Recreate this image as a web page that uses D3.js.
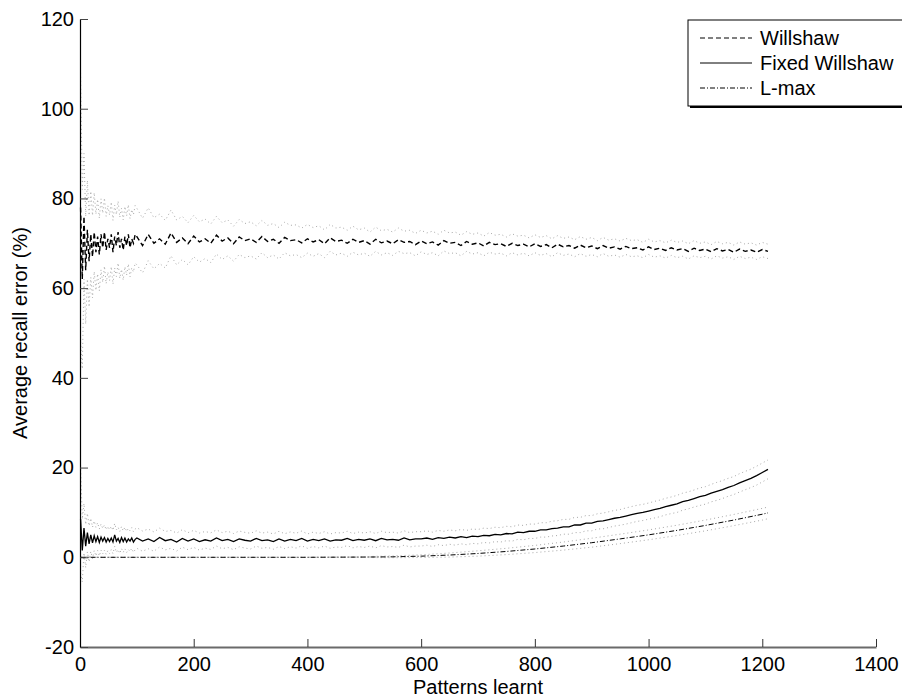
<!DOCTYPE html>
<html>
<head>
<meta charset="utf-8">
<script src="https://cdn.jsdelivr.net/npm/d3@7"></script>
<style>
  body { margin: 0; background: #fff; }
  text { font-family: "Liberation Sans", Arial, sans-serif; fill: #000; }
</style>
</head>
<body>
<div class="chart"></div>
<script>
//Pattern counts where the curves were sampled (dense at the start, then every 10).
var earlyPatterns = d3.range(1, 100, 3);
var latePatterns = d3.range(100, 1211, 10);
var patterns = earlyPatterns.concat(latePatterns);

//Willshaw: mean recall error and its spread.
var willshawMean = [78, 62, 76, 64, 73, 66, 72, 67, 72.5, 68, 71.5, 67.5, 72, 69, 72.5, 68.5, 71, 69, 72, 68,
  71.5, 69.5, 72.5, 69, 71, 68.5, 71.5, 69.5, 72, 69, 71, 70, 72,
  71.5, 69.5, 72.0, 70.0, 71.0, 69.8, 72.3, 70.2, 71.2, 69.9,
  71.6, 70.3, 71.0, 70.0, 71.8, 70.5, 71.2, 69.9, 71.4, 70.6,
  71.0, 70.2, 71.5, 70.4, 70.9, 70.0, 71.3, 70.6, 70.8, 70.1,
  71.0, 70.3, 70.8, 69.9, 71.2, 70.4, 70.7, 70.0, 70.9, 70.2,
  70.6, 69.8, 70.9, 70.1, 70.5, 69.9, 70.8, 70.2, 70.4, 69.7,
  70.5, 69.9, 70.3, 69.6, 70.6, 70.0, 70.2, 69.5, 70.4, 69.8,
  70.1, 69.4, 70.2, 69.7, 69.9, 69.3, 70.0, 69.5, 69.8, 69.2,
  69.9, 69.3, 69.7, 69.0, 69.8, 69.2, 69.5, 68.9, 69.6, 69.0,
  69.4, 68.8, 69.5, 68.9, 69.2, 68.7, 69.3, 68.8, 69.0, 68.5,
  69.2, 68.6, 68.9, 68.4, 69.0, 68.5, 68.8, 68.2, 68.9, 68.4,
  68.7, 68.1, 68.8, 68.3, 68.6, 68.0, 68.7, 68.2, 68.5, 68.0,
  68.6, 68.2];
var willshawSd = [30, 20, 14, 12, 11, 10.2, 9.6, 9.2, 8.8, 8.5, 8.3, 8.1, 7.9, 7.7, 7.6, 7.5, 7.4, 7.3, 7.2, 7.1,
  7.0, 6.9, 6.9, 6.8, 6.8, 6.7, 6.7, 6.6, 6.6, 6.5, 6.5, 6.4, 6.4,
  6.3, 6.1, 5.9, 5.7, 5.5, 5.3, 5.1, 5.0, 4.8, 4.7,
  4.6, 4.5, 4.4, 4.3, 4.2, 4.1, 4.0, 3.9, 3.9, 3.8,
  3.8, 3.7, 3.6, 3.6, 3.5, 3.5, 3.4, 3.4, 3.3, 3.3,
  3.2, 3.2, 3.1, 3.1, 3.0, 3.0, 2.9, 2.9, 2.9, 2.8,
  2.8, 2.7, 2.7, 2.7, 2.6, 2.6, 2.6, 2.5, 2.5, 2.5,
  2.4, 2.4, 2.4, 2.4, 2.3, 2.3, 2.3, 2.3, 2.2, 2.2,
  2.2, 2.2, 2.2, 2.1, 2.1, 2.1, 2.1, 2.1, 2.0, 2.0,
  2.0, 2.0, 2.0, 2.0, 1.9, 1.9, 1.9, 1.9, 1.9, 1.9,
  1.9, 1.8, 1.8, 1.8, 1.8, 1.8, 1.8, 1.8, 1.8, 1.7,
  1.7, 1.7, 1.7, 1.7, 1.7, 1.7, 1.7, 1.7, 1.7, 1.6,
  1.6, 1.6, 1.6, 1.6, 1.6, 1.6, 1.6, 1.6, 1.6, 1.6,
  1.6, 1.6];

//Fixed Willshaw: mean recall error and its spread.
var fixedMean = [8.5, 1.5, 6.5, 2.5, 5.5, 3.0, 5.0, 3.2, 4.8, 3.5, 4.6, 3.3, 4.5, 3.6, 4.4, 3.4, 4.2, 3.5, 4.3, 3.4,
  5.0, 3.6, 4.2, 3.3, 4.4, 3.5, 4.3, 3.4, 4.1, 3.6, 4.3, 3.4, 4.0,
  4.3, 3.6, 4.1, 3.5, 4.4, 3.7, 4.0, 3.4, 4.2, 3.6,
  4.1, 3.5, 3.9, 3.6, 4.3, 3.7, 4.0, 3.5, 4.1, 3.8,
  3.6, 4.2, 3.7, 3.9, 3.5, 4.1, 3.6, 4.0, 3.7, 4.2,
  3.6, 4.0, 3.7, 4.1, 3.6, 3.9, 3.8, 4.2, 3.7, 4.0,
  3.8, 4.1, 3.7, 4.2, 3.9, 4.0, 3.8, 4.3, 3.9, 4.1,
  4.1, 4.3, 4.0, 4.4, 4.2, 4.5, 4.3, 4.6, 4.4, 4.7,
  4.6, 4.9, 4.8, 5.1, 5.0, 5.3, 5.2, 5.6, 5.5, 5.8,
  5.8, 6.1, 6.1, 6.4, 6.5, 6.8, 6.8, 7.2, 7.2, 7.6,
  7.6, 8.0, 8.1, 8.4, 8.7, 8.9, 9.2, 9.5, 9.8, 10.0,
  10.3, 10.6, 10.9, 11.3, 11.6, 11.9, 12.4, 12.7, 13.1, 13.5,
  13.8, 14.3, 14.7, 15.1, 15.6, 16.0, 16.6, 17.1, 17.6, 18.2,
  18.9, 19.6];
var fixedSd = [12, 7, 5.5, 4.8, 4.3, 4.0, 3.7, 3.5, 3.3, 3.2, 3.1, 3.0, 2.9, 2.85, 2.8, 2.75, 2.7, 2.65, 2.6, 2.6,
  2.55, 2.5, 2.5, 2.45, 2.45, 2.4, 2.4, 2.35, 2.35, 2.3, 2.3, 2.3, 2.3,
  2.3, 2.25, 2.2, 2.15, 2.1, 2.05, 2.0, 2.0, 1.95, 1.9,
  1.9, 1.9, 1.85, 1.85, 1.8, 1.8, 1.8, 1.8, 1.75, 1.75,
  1.75, 1.7, 1.7, 1.7, 1.7, 1.7, 1.65, 1.65, 1.65, 1.65,
  1.6, 1.6, 1.6, 1.6, 1.6, 1.6, 1.6, 1.6, 1.6, 1.6,
  1.6, 1.6, 1.6, 1.6, 1.6, 1.6, 1.6, 1.6, 1.6, 1.6,
  1.6, 1.6, 1.6, 1.6, 1.6, 1.6, 1.6, 1.6, 1.6, 1.6,
  1.6, 1.6, 1.6, 1.6, 1.6, 1.6, 1.6, 1.6, 1.6, 1.6,
  1.6, 1.6, 1.6, 1.65, 1.65, 1.65, 1.65, 1.7, 1.7, 1.7,
  1.7, 1.7, 1.75, 1.75, 1.75, 1.75, 1.8, 1.8, 1.8, 1.8,
  1.8, 1.85, 1.85, 1.85, 1.85, 1.9, 1.9, 1.9, 1.9, 1.95,
  1.95, 1.95, 2.0, 2.0, 2.0, 2.0, 2.05, 2.05, 2.05, 2.1,
  2.1, 2.1];

//L-max is smooth, so it is sampled more coarsely.
var lmaxPatterns = [1, 100, 200, 300, 400, 500, 550, 600, 650, 700, 750, 800, 850, 900, 950, 1000, 1050, 1100, 1150, 1200, 1210];
var lmaxMean = [0, 0, 0, 0, 0, 0.05, 0.1, 0.25, 0.5, 0.85, 1.3, 1.85, 2.5, 3.25, 4.1, 5.0, 6.0, 7.1, 8.3, 9.6, 9.9];
var lmaxSd = [0, 0, 0, 0, 0, 0.1, 0.2, 0.3, 0.45, 0.6, 0.7, 0.8, 0.9, 1.0, 1.05, 1.1, 1.15, 1.2, 1.25, 1.3, 1.3];

//Tick values and legend entries.
var xTicks = [0, 200, 400, 600, 800, 1000, 1200, 1400];
var yTicks = [-20, 0, 20, 40, 60, 80, 100, 120];
var legendNames = ["Willshaw", "Fixed Willshaw", "L-max"];
var legendDash = ["5,3", null, "5,2,1,2"];

//Define the SVG area dimensions.
var svgWidth = 902;
var svgHeight = 700;

var margin = {
  top: 19,
  right: 26,
  bottom: 53,
  left: 80
};

var chartWidth = svgWidth - margin.left - margin.right;
var chartHeight = svgHeight - margin.top - margin.bottom;

var svg = d3.select(".chart")
  .append("svg")
  .attr("width", svgWidth)
  .attr("height", svgHeight);

var chart = svg.append("g")
  .attr("transform", "translate(" + margin.left + "," + margin.top + ")");

//Scales.
var xScale = d3.scaleLinear().domain([0, 1400]).range([0, chartWidth]);
var yScale = d3.scaleLinear().domain([-20, 120]).range([chartHeight, 0]);

//Turn parallel arrays into point lists.
function zip(xs, ys, sds, sign) {
  var n = Math.min(xs.length, ys.length);
  var out = [];
  for (var i = 0; i < n; i++) {
    var v = ys[i] + (sds ? sign * sds[i] : 0);
    out.push([xs[i], v]);
  }
  return out;
}

var line = d3.line()
  .x(function(d) { return xScale(d[0]); })
  .y(function(d) { return yScale(d[1]); });

//Spread bands, drawn as light dotted lines.
var bands = [
  zip(patterns, willshawMean, willshawSd, 1),
  zip(patterns, willshawMean, willshawSd, -1),
  zip(patterns, fixedMean, fixedSd, 1),
  zip(patterns, fixedMean, fixedSd, -1),
  zip(lmaxPatterns, lmaxMean, lmaxSd, 1),
  zip(lmaxPatterns, lmaxMean, lmaxSd, -1)
];

chart.selectAll(".band")
  .data(bands)
  .enter()
  .append("path")
  .attr("class", "band")
  .attr("d", line)
  .attr("fill", "none")
  .attr("stroke", "#a8a8a8")
  .attr("stroke-width", 1)
  .attr("stroke-dasharray", "1,3");

//Mean curves.
var means = [
  { pts: zip(patterns, willshawMean), dash: legendDash[0], w: 1.4 },
  { pts: zip(patterns, fixedMean), dash: legendDash[1], w: 1.3 },
  { pts: zip(lmaxPatterns, lmaxMean), dash: legendDash[2], w: 1 }
];

chart.selectAll(".mean")
  .data(means)
  .enter()
  .append("path")
  .attr("class", "mean")
  .attr("d", function(d) { return line(d.pts); })
  .attr("fill", "none")
  .attr("stroke", "#000")
  .attr("stroke-width", function(d) { return d.w; })
  .attr("stroke-dasharray", function(d) { return d.dash; });

//Axes, ticks pointing inward like MATLAB. Plain integer labels.
var plain = function(d) { return String(d); };
var bottomAxis = d3.axisBottom(xScale).tickValues(xTicks).tickFormat(plain)
  .tickSizeInner(-8).tickSizeOuter(0).tickPadding(10);
var leftAxis = d3.axisLeft(yScale).tickValues(yTicks).tickFormat(plain)
  .tickSizeInner(-8).tickSizeOuter(0).tickPadding(6);

var gx = chart.append("g")
  .attr("transform", "translate(0," + chartHeight + ")")
  .call(bottomAxis);
gx.select(".domain").attr("stroke", "#6a6a6a").attr("stroke-width", 2);
gx.selectAll(".tick line").attr("stroke", "#333");
gx.selectAll(".tick text")
  .attr("font-size", 20)
  .attr("fill", "#000");

var gy = chart.append("g").call(leftAxis);
gy.select(".domain").attr("stroke", "#000").attr("stroke-width", 1.2);
gy.selectAll(".tick line").attr("stroke", "#444");
gy.selectAll(".tick text")
  .attr("font-size", 20)
  .attr("fill", "#000");

//Axis titles.
svg.append("text")
  .attr("x", margin.left + chartWidth / 2)
  .attr("y", 694)
  .attr("text-anchor", "middle")
  .attr("font-size", 20)
  .text("Patterns learnt");

svg.append("text")
  .attr("transform", "translate(27," + (margin.top + chartHeight / 2) + ") rotate(-90)")
  .attr("text-anchor", "middle")
  .attr("font-size", 20)
  .text("Average recall error (%)");

//Legend box in the top right corner.
var legend = svg.append("g");
legend.append("rect")
  .attr("x", 690)
  .attr("y", 22)
  .attr("width", 220)
  .attr("height", 86)
  .attr("fill", "#000");
legend.append("rect")
  .attr("x", 688)
  .attr("y", 20)
  .attr("width", 220)
  .attr("height", 86)
  .attr("fill", "#fff")
  .attr("stroke", "#000")
  .attr("stroke-width", 1);

var rows = legend.selectAll(".row")
  .data(legendNames)
  .enter()
  .append("g")
  .attr("class", "row")
  .attr("transform", function(d, i) { return "translate(0," + (38 + i * 25) + ")"; });

rows.append("line")
  .attr("x1", 700)
  .attr("x2", 752)
  .attr("stroke", "#000")
  .attr("stroke-width", 1)
  .attr("stroke-dasharray", function(d, i) { return legendDash[i]; });

rows.append("text")
  .attr("x", 760)
  .attr("y", 7)
  .attr("font-size", 20)
  .text(function(d) { return d; });
</script>
</body>
</html>
